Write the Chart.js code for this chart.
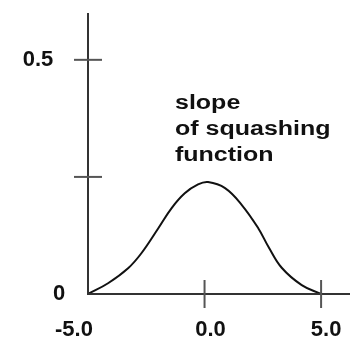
<!DOCTYPE html>
<html>
<head>
<meta charset="utf-8">
<script src="https://cdn.jsdelivr.net/npm/chart.js@4"></script>
<style>
  html, body { margin: 0; padding: 0; background: #fff; }
  #wrap { width: 350px; height: 344px; }
</style>
</head>
<body>
<div id="wrap"><canvas id="slopeChart" width="350" height="344"></canvas></div>
<script>
// curve
const curveX = [-5.0, -4.14, -3.28, -2.71, -1.99, -1.42, -0.85, -0.28, 0.15, 0.88, 1.60, 2.31, 2.74, 3.31, 4.17, 5.0];
const curveY = [0.0, 0.023, 0.055, 0.087, 0.140, 0.183, 0.215, 0.234, 0.239, 0.226, 0.190, 0.140, 0.101, 0.056, 0.019, 0.0];

const xTicks = [-5, 0, 5];
const xTickLabels = ['-5.0', '0.0', '5.0'];
const yTicks = [0, 0.25, 0.5];
const yTickLabels = ['0', '', '0.5'];
const noteLines = ['slope', 'of squashing', 'function'];

const xRange = { min: -5, max: 6.24 };
const yRange = { min: 0, max: 0.6 };

const points = curveX.map((x, i) => ({ x: x, y: curveY[i] }));

// axes, crossing tick marks, labels and the note are drawn by hand
const axesPlugin = {
  id: 'handAxes',
  afterDatasetsDraw(chart) {
    const ctx = chart.ctx;
    const area = chart.chartArea;
    const xs = chart.scales.x;
    const ys = chart.scales.y;
    const x0 = xs.getPixelForValue(-5);
    const y0 = ys.getPixelForValue(0);

    ctx.save();
    ctx.strokeStyle = '#333';
    ctx.lineWidth = 2;

    // axis lines
    ctx.beginPath();
    ctx.moveTo(x0, area.top);
    ctx.lineTo(x0, y0);
    ctx.lineTo(area.right, y0);
    ctx.stroke();

    // y tick marks
    ctx.strokeStyle = '#555';
    yTicks.forEach(v => {
      if (v === 0) return;
      const py = ys.getPixelForValue(v);
      ctx.beginPath();
      ctx.moveTo(x0 - 14, py);
      ctx.lineTo(x0 + 14, py);
      ctx.stroke();
    });

    // x tick marks
    xTicks.forEach(v => {
      if (v === -5) return;
      const px = xs.getPixelForValue(v);
      ctx.beginPath();
      ctx.moveTo(px, y0 - 14);
      ctx.lineTo(px, y0 + 14);
      ctx.stroke();
    });

    // tick labels
    ctx.fillStyle = '#111';
    ctx.font = 'bold 22px "Liberation Sans", Arial, sans-serif';
    ctx.textBaseline = 'middle';
    ctx.textAlign = 'center';
    yTicks.forEach((v, i) => {
      if (!yTickLabels[i]) return;
      const py = ys.getPixelForValue(v);
      const px = v === 0 ? x0 - 29 : x0 - 50;
      ctx.fillText(yTickLabels[i], px, py);
    });
    xTicks.forEach((v, i) => {
      let px = xs.getPixelForValue(v);
      if (v === -5) px -= 14;
      else if (v === 0) px += 6;
      else px += 5;
      ctx.fillText(xTickLabels[i], px, y0 + 36);
    });

    // note text, wide bold face
    ctx.font = 'bold 20px "Liberation Sans", Arial, sans-serif';
    ctx.textAlign = 'left';
    ctx.textBaseline = 'alphabetic';
    noteLines.forEach((line, i) => {
      ctx.save();
      ctx.translate(175, 108.5 + i * 26);
      ctx.scale(1.25, 1);
      ctx.fillText(line, 0, 0);
      ctx.restore();
    });

    ctx.restore();
  }
};

const canvas = document.getElementById('slopeChart');

const slopeChart = new Chart(canvas, {
  type: 'line',
  data: {
    datasets: [{
      label: 'slope of squashing function',
      data: points,
      borderColor: '#111',
      borderWidth: 2,
      pointRadius: 0,
      fill: false,
      tension: 0.4,
      clip: 6
    }]
  },
  options: {
    responsive: false,
    animation: false,
    layout: { padding: { left: 88, right: 0, top: 13, bottom: 50 } },
    plugins: {
      legend: { display: false },
      tooltip: { enabled: false }
    },
    scales: {
      x: { type: 'linear', min: xRange.min, max: xRange.max, display: false },
      y: { type: 'linear', min: yRange.min, max: yRange.max, display: false }
    }
  },
  plugins: [axesPlugin]
});
</script>
</body>
</html>
